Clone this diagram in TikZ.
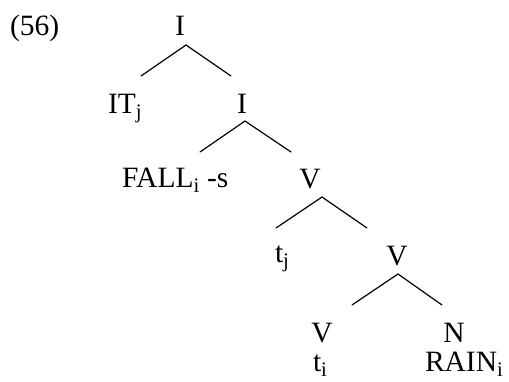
\documentclass[tikz,border=0pt]{standalone}
\usepackage{fontspec}
\setmainfont{Liberation Serif}
\begin{document}
\begin{tikzpicture}[x=1pt,y=-1pt,
  lab/.style={inner sep=0pt,outer sep=0pt,anchor=base,font=\fontsize{29.5}{34}\selectfont},
  labw/.style={lab,anchor=base west},
  edge/.style={line width=1.2pt,line cap=round}]
\useasboundingbox (0,0) rectangle (509,381);
% labels
\node[labw] (num) at (10,35) {(56)};
\node[lab] (i1) at (180,35) {I};
\node[labw] (it) at (108,113) {IT\textsubscript{j}};
\node[lab] (i2) at (242,113) {I};
\node[labw] (fall) at (122,187) {FALL\textsubscript{i} -s};
\node[lab] (v1) at (310,188) {V};
\node[labw] (tj) at (275,262) {t\textsubscript{j}};
\node[lab] (v2) at (397,265) {V};
\node[lab] (v3) at (322,342) {V};
\node[lab] (n) at (454,342) {N};
\node[labw] (ti) at (313,371) {t\textsubscript{i}};
\node[labw] (rain) at (425,371) {RAIN\textsubscript{i}};
% apexes and branch ends
\coordinate (a1) at (186,45);
\coordinate (a1l) at (141,76);
\coordinate (a1r) at (231,76);
\coordinate (a2) at (245,121);
\coordinate (a2l) at (200,152);
\coordinate (a2r) at (291,152);
\coordinate (a3) at (322,197);
\coordinate (a3l) at (276,228);
\coordinate (a3r) at (367,228);
\coordinate (a4) at (398,274);
\coordinate (a4l) at (352,305);
\coordinate (a4r) at (442,305);
% branches
\draw[edge] (a1l) -- (a1) -- (a1r);
\draw[edge] (a2l) -- (a2) -- (a2r);
\draw[edge] (a3l) -- (a3) -- (a3r);
\draw[edge] (a4l) -- (a4) -- (a4r);
\end{tikzpicture}
\end{document}
